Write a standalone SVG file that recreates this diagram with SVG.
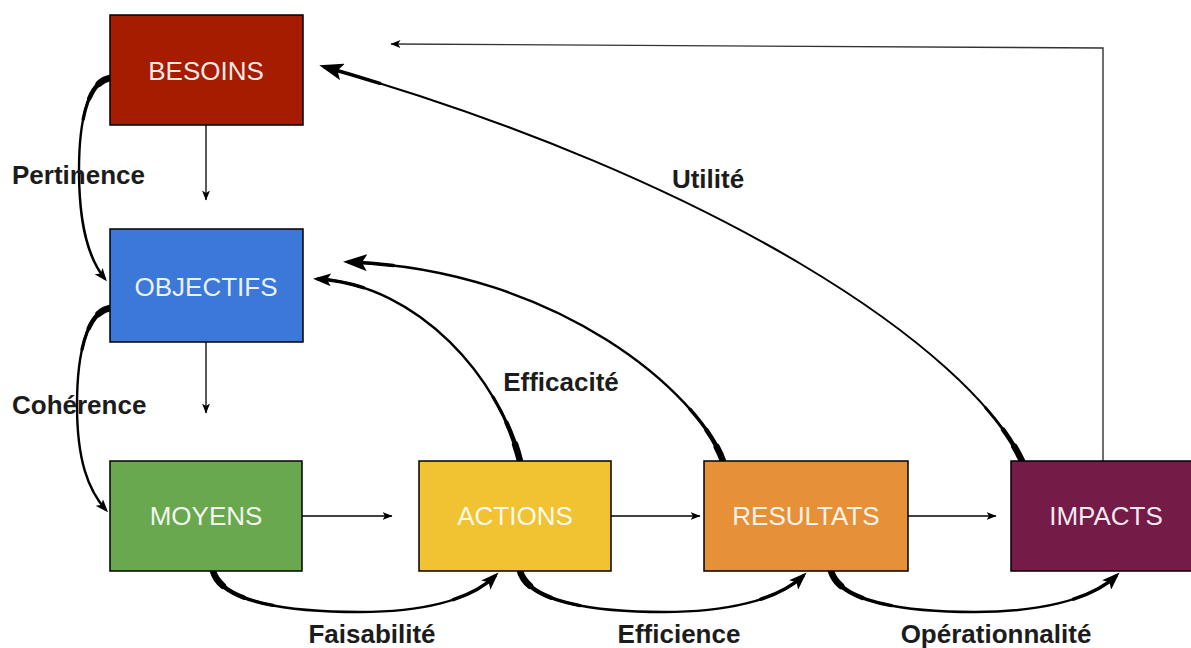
<svg xmlns="http://www.w3.org/2000/svg" width="1191" height="648" viewBox="0 0 1191 648">
<style>
.box{stroke:#000;stroke-width:1.5}
.nl{font-family:"Liberation Sans",Arial,sans-serif;font-size:26px;fill:#fff;fill-opacity:.92;text-anchor:middle}
.el{font-family:"Liberation Sans",Arial,sans-serif;font-size:26px;font-weight:bold;fill:#1c1c1c}
.ln{fill:none;stroke:#000;stroke-width:1.3}
.fb{fill:none;stroke:#333;stroke-width:1.4}
.c{fill:none;stroke:#000;stroke-width:2.4}
.t0{fill:none;stroke:#000;stroke-width:3.3;stroke-dasharray:24 200;stroke-linecap:round}
.ta{fill:none;stroke:#000;stroke-width:4.5;stroke-dasharray:14 200;stroke-linecap:round}
.tb{fill:none;stroke:#000;stroke-width:6.5;stroke-dasharray:6 200;stroke-linecap:round}
.tc{fill:none;stroke:#000;stroke-width:3.4;stroke-dasharray:0 84 16 100;stroke-linecap:round}
</style>
<defs>
<marker id="ms" markerUnits="userSpaceOnUse" viewBox="0 0 10 8" refX="9.5" refY="4" markerWidth="10" markerHeight="8" orient="auto"><path d="M0,0 L10,4 L0,8 L2.5,4 Z" fill="#000"/></marker>
<marker id="mb" markerUnits="userSpaceOnUse" viewBox="0 0 24 17" refX="18" refY="8.5" markerWidth="24" markerHeight="17" orient="auto"><path d="M0,0 L24,8.5 L0,17 L5,8.5 Z" fill="#000"/></marker>
<marker id="mm" markerUnits="userSpaceOnUse" viewBox="0 0 18 13" refX="13" refY="6.5" markerWidth="18" markerHeight="13" orient="auto"><path d="M0,0 L18,6.5 L0,13 L4,6.5 Z" fill="#000"/></marker>
<marker id="mt" markerUnits="userSpaceOnUse" viewBox="0 0 13 10" refX="10" refY="5" markerWidth="13" markerHeight="10" orient="auto"><path d="M0,0 L13,5 L0,10 L3,5 Z" fill="#000"/></marker>
</defs>
<rect width="1191" height="648" fill="#fff"/>
<g id="connectors">
<path class="ln" d="M206,125 V200" marker-end="url(#ms)"/>
<path class="ln" d="M206,342 V413" marker-end="url(#ms)"/>
<path class="ln" d="M302,516 H392" marker-end="url(#ms)"/>
<path class="ln" d="M611,516 H700" marker-end="url(#ms)"/>
<path class="ln" d="M908,516 H996" marker-end="url(#ms)"/>
<path class="fb" d="M1103,461 V48 L391,44" marker-end="url(#ms)"/>
<g id="pertinence">
<path class="c" pathLength="100" d="M110,78 C88,82 79,120 79,170 C79,225 88,258 105,279" marker-end="url(#mt)"/>
<path class="t0" pathLength="100" d="M110,78 C88,82 79,120 79,170 C79,225 88,258 105,279"/>
<path class="ta" pathLength="100" d="M110,78 C88,82 79,120 79,170 C79,225 88,258 105,279"/>
<path class="tb" pathLength="100" d="M110,78 C88,82 79,120 79,170 C79,225 88,258 105,279"/>
</g>
<g id="coherence">
<path class="c" pathLength="100" d="M110,308 C88,312 77,350 77,405 C77,460 88,490 106,510" marker-end="url(#mt)"/>
<path class="t0" pathLength="100" d="M110,308 C88,312 77,350 77,405 C77,460 88,490 106,510"/>
<path class="ta" pathLength="100" d="M110,308 C88,312 77,350 77,405 C77,460 88,490 106,510"/>
<path class="tb" pathLength="100" d="M110,308 C88,312 77,350 77,405 C77,460 88,490 106,510"/>
</g>
<g id="faisabilite">
<path class="c" pathLength="100" d="M213,571 C222,603 290,612 360,612 C420,612 470,601 495,576" marker-end="url(#mm)"/>
<path class="t0" pathLength="100" d="M213,571 C222,603 290,612 360,612 C420,612 470,601 495,576"/>
<path class="ta" pathLength="100" d="M213,571 C222,603 290,612 360,612 C420,612 470,601 495,576"/>
<path class="tb" pathLength="100" d="M213,571 C222,603 290,612 360,612 C420,612 470,601 495,576"/>
<path class="tc" pathLength="100" d="M213,571 C222,603 290,612 360,612 C420,612 470,601 495,576"/>
</g>
<g id="efficience">
<path class="c" pathLength="100" d="M520,571 C529,603 597,612 664,612 C724,612 777,601 803,576" marker-end="url(#mm)"/>
<path class="t0" pathLength="100" d="M520,571 C529,603 597,612 664,612 C724,612 777,601 803,576"/>
<path class="ta" pathLength="100" d="M520,571 C529,603 597,612 664,612 C724,612 777,601 803,576"/>
<path class="tb" pathLength="100" d="M520,571 C529,603 597,612 664,612 C724,612 777,601 803,576"/>
<path class="tc" pathLength="100" d="M520,571 C529,603 597,612 664,612 C724,612 777,601 803,576"/>
</g>
<g id="operationnalite">
<path class="c" pathLength="100" d="M831,571 C840,603 908,612 975,612 C1035,612 1090,601 1116,576" marker-end="url(#mm)"/>
<path class="t0" pathLength="100" d="M831,571 C840,603 908,612 975,612 C1035,612 1090,601 1116,576"/>
<path class="ta" pathLength="100" d="M831,571 C840,603 908,612 975,612 C1035,612 1090,601 1116,576"/>
<path class="tb" pathLength="100" d="M831,571 C840,603 908,612 975,612 C1035,612 1090,601 1116,576"/>
<path class="tc" pathLength="100" d="M831,571 C840,603 908,612 975,612 C1035,612 1090,601 1116,576"/>
</g>
<g id="efficacite1">
<path class="c" pathLength="100" d="M520,461 C500,380 420,285 318,279" marker-end="url(#mm)"/>
<path class="t0" pathLength="100" d="M520,461 C500,380 420,285 318,279"/>
<path class="ta" pathLength="100" d="M520,461 C500,380 420,285 318,279"/>
<path class="tb" pathLength="100" d="M520,461 C500,380 420,285 318,279"/>
<path class="tc" pathLength="100" d="M520,461 C500,380 420,285 318,279"/>
</g>
<g id="efficacite2">
<path class="c" pathLength="100" d="M723,461 C700,395 560,270 349,262" marker-end="url(#mb)"/>
<path class="t0" pathLength="100" style="stroke-dasharray:14 200" d="M723,461 C700,395 560,270 349,262"/>
<path class="ta" pathLength="100" style="stroke-dasharray:8 200" d="M723,461 C700,395 560,270 349,262"/>
<path class="tb" pathLength="100" style="stroke-dasharray:3.5 200" d="M723,461 C700,395 560,270 349,262"/>
<path class="tc" pathLength="100" style="stroke-dasharray:0 90 10 100" d="M723,461 C700,395 560,270 349,262"/>
</g>
<g id="utilite">
<path class="c" pathLength="100" style="stroke-width:2" d="M1022,461 C970,350 720,180 325,67" marker-end="url(#mb)"/>
<path class="t0" pathLength="100" style="stroke-dasharray:8 200;stroke-width:2.8" d="M1022,461 C970,350 720,180 325,67"/>
<path class="ta" pathLength="100" style="stroke-dasharray:4.5 200" d="M1022,461 C970,350 720,180 325,67"/>
<path class="tb" pathLength="100" style="stroke-dasharray:2 200" d="M1022,461 C970,350 720,180 325,67"/>
<path class="tc" pathLength="100" style="stroke-dasharray:0 93 7 100" d="M1022,461 C970,350 720,180 325,67"/>
</g>
</g>
<g id="besoins"><rect class="box" x="110" y="15" width="193" height="110" fill="#a61c00"/><text class="nl" x="206" y="80">BESOINS</text></g>
<g id="objectifs"><rect class="box" x="110" y="229" width="193" height="113" fill="#3c78d8"/><text class="nl" x="206" y="296">OBJECTIFS</text></g>
<g id="moyens"><rect class="box" x="110" y="461" width="192" height="110" fill="#6aa84f"/><text class="nl" x="206" y="525">MOYENS</text></g>
<g id="actions"><rect class="box" x="419" y="461" width="192" height="110" fill="#f1c232"/><text class="nl" x="515" y="525">ACTIONS</text></g>
<g id="resultats"><rect class="box" x="704" y="461" width="204" height="110" fill="#e69138"/><text class="nl" x="806" y="525">RESULTATS</text></g>
<g id="impacts"><rect class="box" x="1011" y="461" width="193" height="110" fill="#741b47"/><text class="nl" x="1106" y="525">IMPACTS</text></g>
<g id="labels">
<text class="el" x="12" y="184">Pertinence</text>
<text class="el" x="12" y="414">Cohérence</text>
<text class="el" x="561" y="391" text-anchor="middle">Efficacité</text>
<text class="el" x="708" y="188" text-anchor="middle">Utilité</text>
<text class="el" x="372" y="643" text-anchor="middle">Faisabilité</text>
<text class="el" x="679" y="643" text-anchor="middle">Efficience</text>
<text class="el" x="996" y="643" text-anchor="middle">Opérationnalité</text>
</g>
</svg>
